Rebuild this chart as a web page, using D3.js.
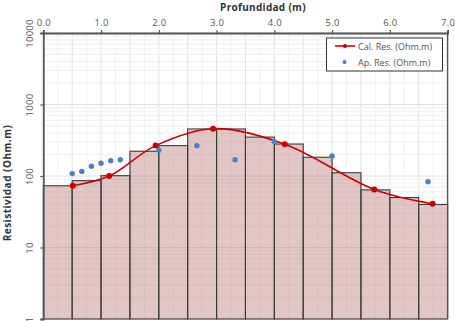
<!DOCTYPE html>
<html><head><meta charset="utf-8">
<script src="https://cdn.jsdelivr.net/npm/d3@7"></script>
<style>body{margin:0;background:#fff}svg{display:block}text{font-family:"Open Sans",sans-serif}</style>
</head><body><svg id="c" width="455" height="321"></svg>
<script>
// Layers (bars): start depth, end depth, resistivity
const layerStart = [0.0,0.5,1.0,1.5,2.0,2.5,3.0,3.5,4.0,4.5,5.0,5.5,6.0,6.5];
const layerEnd   = [0.5,1.0,1.5,2.0,2.5,3.0,3.5,4.0,4.5,5.0,5.5,6.0,6.5,7.0];
const layerRes   = [73,86,101,222,266,455,455,350,280,183,111,64,50,40];
// Calculated resistivity (red line)
const calDepth = [0.51,1.14,1.945,2.94,4.18,5.73,6.74];
const calRes   = [73,100,266,459,278,65,41];
// Apparent resistivity (blue points)
const apDepth = [0.5,0.667,0.833,1.0,1.167,1.333,2.0,2.66,3.32,4.0,5.0,6.66];
const apRes   = [108,116,137,151,164,169,229,265,169,302,190,83];
const xTicks = [0,1,2,3,4,5,6,7];
const yTicks = [1,10,100,1000,10000];
const xTitle = "Profundidad (m)";
const yTitle = "Resistividad  (Ohm.m)";
const legendLabels = ["Cal. Res. (Ohm.m)","Ap. Res. (Ohm.m)"];

const svg = d3.select("#c");
const L=43.3, R=447.6, T=33, B=319;
const x = d3.scaleLinear().domain([0,7]).range([L,R]);
const y = d3.scaleLog().domain([1,10000]).range([B,T]);

// grid
const g = svg.append("g");
const minorX = d3.range(0,7.001,0.25);
g.selectAll(".gx").data(minorX).join("line")
  .attr("x1",d=>x(d)).attr("x2",d=>x(d)).attr("y1",T).attr("y2",B)
  .attr("stroke",d=>Math.abs(d*2-Math.round(d*2))<1e-6?"#e2e2e2":"#f1f1f1").attr("stroke-width",1);
const minorY=[];
for(let e=0;e<4;e++) for(let m=2;m<=9;m++) minorY.push(m*Math.pow(10,e));
g.selectAll(".gy").data(minorY).join("line")
  .attr("x1",L).attr("x2",R).attr("y1",d=>y(d)).attr("y2",d=>y(d))
  .attr("stroke","#efefef").attr("stroke-width",1);
g.selectAll(".gy2").data(yTicks).join("line")
  .attr("x1",L).attr("x2",R).attr("y1",d=>y(d)).attr("y2",d=>y(d))
  .attr("stroke","#e0e0e0").attr("stroke-width",1.2);

// bars
svg.append("g").selectAll("rect").data(layerRes).join("rect")
  .attr("x",(d,i)=>x(layerStart[i])).attr("width",(d,i)=>x(layerEnd[i])-x(layerStart[i]))
  .attr("y",d=>y(d)).attr("height",d=>B-y(d))
  .attr("fill","rgb(185,120,120)").attr("fill-opacity",0.42)
  .attr("stroke","#3a3a3a").attr("stroke-width",1.1);

// red line
const line = d3.line().x((d,i)=>x(calDepth[i])).y(d=>y(d)).curve(d3.curveCatmullRom.alpha(0.5));
svg.append("path").datum(calRes).attr("d",line).attr("fill","none").attr("stroke","#cc0000").attr("stroke-width",1.6);
svg.append("g").selectAll("circle").data(calRes).join("circle")
  .attr("cx",(d,i)=>x(calDepth[i])).attr("cy",d=>y(d)).attr("r",3).attr("fill","#cc0000");
// blue points
svg.append("g").selectAll("circle").data(apRes).join("circle")
  .attr("cx",(d,i)=>x(apDepth[i])).attr("cy",d=>y(d)).attr("r",2.7).attr("fill","#4a80c4");

// axes
const xa = svg.append("g").attr("transform",`translate(0,${T})`)
  .call(d3.axisTop(x).tickValues(xTicks).tickFormat(d3.format(".1f")).tickSize(3).tickPadding(4));
xa.select(".domain").attr("stroke","#555").attr("stroke-width",1.8);
xa.selectAll(".tick line").attr("stroke","#555").attr("stroke-width",1.2);
xa.selectAll(".tick text").attr("fill","#555").style("font-size","9.5px").style("letter-spacing","0.3px");

const ya = svg.append("g").attr("transform",`translate(${L},0)`)
  .call(d3.axisLeft(y).tickValues(yTicks).tickFormat(d3.format("d")).tickSize(3).tickPadding(4));
ya.select(".domain").attr("stroke","#555").attr("stroke-width",1.8);
ya.selectAll(".tick line").attr("stroke","#555").attr("stroke-width",1.2);
ya.selectAll(".tick text").attr("fill","#555").style("font-size","9.5px").style("letter-spacing","0.3px")
  .attr("text-anchor","middle").attr("x",0).attr("y",0)
  .attr("transform","translate(-14,0) rotate(-90)").attr("dy","0.35em");

// right border
svg.append("line").attr("x1",R).attr("x2",R).attr("y1",T).attr("y2",B).attr("stroke","#555").attr("stroke-width",1.4);

// titles
svg.append("text").attr("x",263).attr("y",10.5).attr("text-anchor","middle")
  .style("font-size","10px").style("font-weight","bold").style("letter-spacing","0.3px").attr("fill","#333").text(xTitle);
svg.append("text").attr("transform","translate(10.5,183) rotate(-90)").attr("text-anchor","middle")
  .style("font-size","10px").style("font-weight","bold").style("letter-spacing","0.5px").attr("fill","#333").text(yTitle);

// legend
const lg = svg.append("g");
lg.append("rect").attr("x",326.5).attr("y",38).attr("width",116).attr("height",33)
  .attr("fill","#fff").attr("stroke","#333").attr("stroke-width",1);
lg.append("line").attr("x1",335).attr("x2",355).attr("y1",46).attr("y2",46).attr("stroke","#cc0000").attr("stroke-width",1.6);
lg.append("circle").attr("cx",345).attr("cy",46).attr("r",2).attr("fill","#cc0000");
lg.append("circle").attr("cx",344.5).attr("cy",62).attr("r",2).attr("fill","#4a80c4");
lg.append("text").attr("x",358).attr("y",49.5).style("font-size","9px").attr("fill","#555").text(legendLabels[0]);
lg.append("text").attr("x",358).attr("y",65.5).style("font-size","9px").attr("fill","#555").text(legendLabels[1]);
</script></body></html>
